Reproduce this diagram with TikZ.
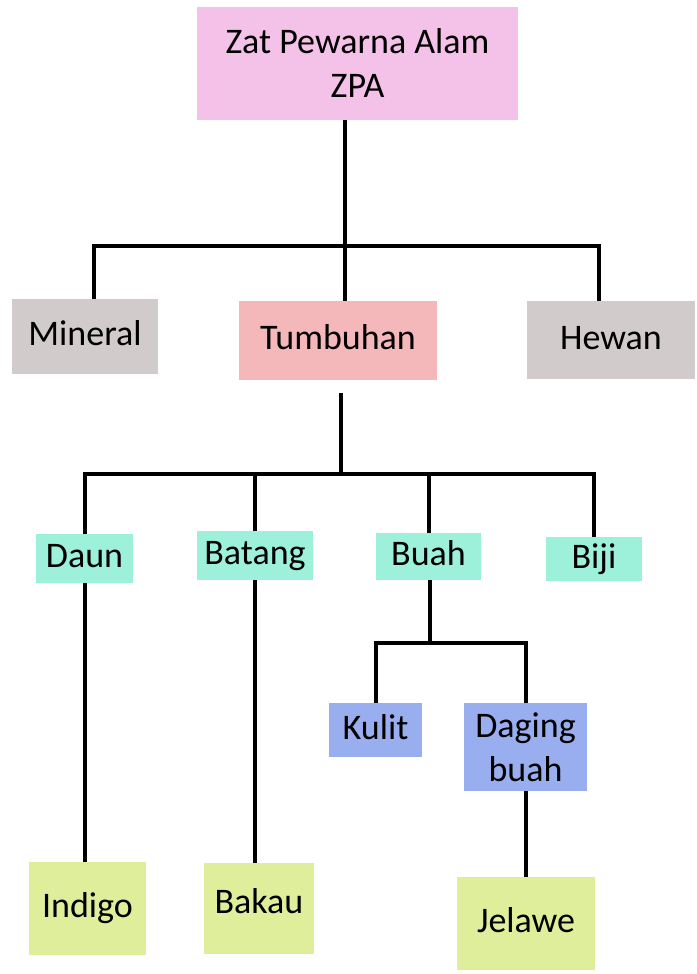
\documentclass[tikz,border=0pt]{standalone}
\usepackage{fontspec}
\setmainfont{Carlito}
\definecolor{zpapink}{HTML}{F4C2E8}
\definecolor{srcgray}{HTML}{D1CBCB}
\definecolor{plantred}{HTML}{F5B8BA}
\definecolor{partaqua}{HTML}{9DF0DA}
\definecolor{fruitblue}{HTML}{99AEEE}
\definecolor{dyegreen}{HTML}{DFEE9A}

\begin{document}
\begin{tikzpicture}[x=1pt,y=-1pt,
    box/.style={fill=#1,inner sep=0pt,font=\fontsize{36}{44}\selectfont,
      text height=27pt,text depth=9pt},
    twoline/.style={fill=#1,inner sep=0pt,font=\fontsize{36}{44}\selectfont,align=center},
    link/.style={line width=4pt,black}]
    \useasboundingbox (0,0) rectangle (696,974);
    \node[twoline=zpapink,minimum width=321pt,minimum height=113pt] (zpa) at (357.5,63.5) {Zat Pewarna Alam\\ZPA};
    \node[box=srcgray,minimum width=146pt,minimum height=75pt] (mineral) at (85,336.5) {Mineral};
    \node[box=plantred,minimum width=198pt,minimum height=79pt] (tumbuhan) at (338,340.5) {Tumbuhan};
    \node[box=srcgray,minimum width=168pt,minimum height=78pt] (hewan) at (611,340) {Hewan};
    \node[box=partaqua,minimum width=97pt,minimum height=49pt] (daun) at (84.5,558.5) {Daun};
    \node[box=partaqua,minimum width=116pt,minimum height=49pt] (batang) at (255,555.5) {Batang};
    \node[box=partaqua,minimum width=105pt,minimum height=47pt] (buah) at (428.5,556.5) {Buah};
    \node[box=partaqua,minimum width=96pt,minimum height=44pt] (biji) at (594,559) {Biji};
    \node[box=fruitblue,minimum width=93pt,minimum height=54pt] (kulit) at (375.5,730) {Kulit};
    \node[twoline=fruitblue,minimum width=123pt,minimum height=88pt] (daging) at (525.5,747) {Daging\\buah};
    \node[box=dyegreen,minimum width=117pt,minimum height=93pt] (indigo) at (87.5,908.5) {Indigo};
    \node[box=dyegreen,minimum width=110pt,minimum height=91pt,text depth=18pt] (bakau) at (259,908.5) {Bakau};
    \node[box=dyegreen,minimum width=138pt,minimum height=93pt] (jelawe) at (526,923.5) {Jelawe};

    \coordinate (j1) at (345,246);
    \coordinate (j1l) at (94,246);
    \coordinate (j1r) at (599,246);
    \draw[link] (zpa.south -| j1) -- (tumbuhan.north -| j1);
    \draw[link] (mineral.north -| j1l) -- (j1l) -- (j1r) -- (hewan.north -| j1r);

    \coordinate (j2) at (341,474);
    \draw[link] ([yshift=-13pt]tumbuhan.south -| j2) -- (j2);
    \draw[link] (daun.north) |- (j2) -| (biji.north);
    \draw[link] (batang.north) -- (batang.north |- j2);
    \draw[link] (buah.north) -- (buah.north |- j2);

    \coordinate (j3) at (430,643);
    \draw[link] (buah.south -| j3) -- (j3);
    \draw[link] (kulit.north) |- (j3) -| (daging.north);

    \draw[link] (daun.south) -- (daun.south |- indigo.north);
    \draw[link] (batang.south) -- (batang.south |- bakau.north);
    \draw[link] (daging.south) -- (daging.south |- jelawe.north);
  \end{tikzpicture}
\end{document}
